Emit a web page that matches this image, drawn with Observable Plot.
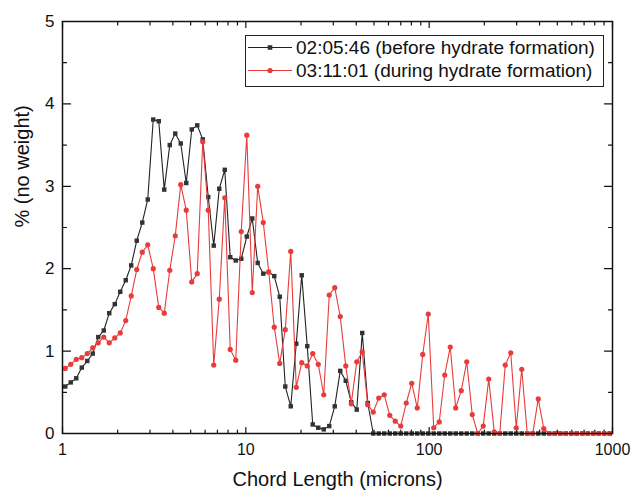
<!DOCTYPE html>
<html><head><meta charset="utf-8">
<script src="https://cdn.jsdelivr.net/npm/d3@7"></script>
<script src="https://cdn.jsdelivr.net/npm/@observablehq/plot@0.6"></script>
<style>
body{margin:0;background:#fff;}
#wrap{position:relative;width:631px;height:494px;font-family:"Liberation Sans",Arial,sans-serif;}
#legend{position:absolute;left:245px;top:35px;}
</style></head><body><div id="wrap"></div>
<script>
const chordLength = [1.035,1.109,1.189,1.274,1.365,1.462,1.567,1.679,1.799,1.928,2.065,2.213,2.371,2.541,2.723,2.917,3.126,3.350,3.589,3.846,4.121,4.416,4.732,5.070,5.433,5.821,6.237,6.683,7.161,7.674,8.222,8.810,9.441,
10.12,10.84,11.61,12.45,13.34,14.29,15.31,16.41,17.58,18.84,20.18,21.63,23.17,24.83,26.61,28.51,30.55,32.73,35.08,37.58,40.27,43.15,46.24,49.55,53.09,56.89,60.95,65.31,69.98,74.99,80.35,86.10,92.26,
98.86,105.9,113.5,121.6,130.3,139.6,149.6,160.3,171.8,184.1,197.2,211.3,226.5,242.7,260.0,278.6,298.5,319.9,342.8,367.3,393.6,421.7,451.9,484.2,518.8,555.9,595.7,638.3,683.9,732.8,785.2,841.4,901.6,966.1];
const beforeHydrate = [0.57,0.62,0.67,0.80,0.88,0.97,1.17,1.25,1.46,1.57,1.72,1.86,2.04,2.34,2.56,2.84,3.81,3.79,2.96,3.50,3.64,3.52,3.04,3.69,3.74,3.57,2.87,2.28,2.97,3.20,2.14,2.10,2.12,
2.39,2.61,2.07,1.94,1.96,1.91,1.66,0.57,0.33,1.09,1.92,1.06,0.11,0.07,0.05,0.09,0.33,0.76,0.64,0.38,0.29,1.22,0.37,0,0,0,0,0,0,0,0,0,0,
0,0,0,0,0,0,0,0,0,0,0,0,0,0,0,0,0,0,0,0,0,0,0,0,0,0,0,0,0,0,0,0,0,0];
const duringHydrate = [0.79,0.84,0.90,0.92,0.97,1.04,1.10,1.17,1.10,1.16,1.22,1.37,1.67,1.99,2.20,2.29,2.00,1.53,1.46,1.98,2.40,3.02,2.71,1.84,1.94,3.54,2.71,0.83,1.63,2.86,1.02,0.89,2.45,
3.62,1.71,3.00,2.56,1.96,1.29,0.85,1.26,2.21,0.56,0.86,0.82,0.97,0.84,0.47,1.68,1.77,1.42,0.82,0.36,0.87,0.99,0.35,0.26,0.43,0.47,0.22,0.15,0.09,0.37,0.61,0.31,0.96,
1.45,0.07,0.14,0.71,1.05,0.31,0.52,0.87,0.23,0,0.09,0.66,0.02,0,0.83,0.98,0.07,0.78,0,0,0.42,0.06,0,0,0,0,0,0,0,0,0,0,0,0];
const seriesNames = ["02:05:46 (before hydrate formation)", "03:11:01 (during hydrate formation)"];
const seriesColors = ["#222222", "#e83c3c"];
const xTicks = [1, 10, 100, 1000];
const xMinorTicks = [2,3,4,5,6,7,8,9,20,30,40,50,60,70,80,90,200,300,400,500,600,700,800,900];
const yTicks = [0, 1, 2, 3, 4, 5];
const yMinorTicks = [0.5, 1.5, 2.5, 3.5, 4.5];
const xTitle = "Chord Length (microns)";
const yTitle = "% (no weight)";

const rowsBefore = chordLength.map((x, i) => ({x, y: beforeHydrate[i]}));
const rowsDuring = chordLength.map((x, i) => ({x, y: duringHydrate[i]}));

const tickShape = {draw(ctx, l) { ctx.moveTo(0, 0); ctx.lineTo(0, -l); }};
function ticksOn(values, ch, anchor, rotate, len) {
  const o = {frameAnchor: anchor, rotate, length: len, anchor: "start", shape: tickShape, stroke: "#111", strokeWidth: 1.2};
  o[ch] = d => d;
  return Plot.vector(values, o);
}

const chart = Plot.plot({
  width: 631, height: 494,
  marginLeft: 62, marginRight: 19, marginTop: 21, marginBottom: 61,
  x: {type: "log", domain: [1, 1000], label: null},
  y: {domain: [0, 5], label: null},
  style: {fontFamily: '"Liberation Sans", Arial, sans-serif', fontSize: "16px", color: "#111", background: "#fff"},
  marks: [
    Plot.axisX(xTicks, {tickSize: 0, tickPadding: 10, tickFormat: d => String(d), fontSize: 16, label: null}),
    Plot.axisY(yTicks, {tickSize: 0, tickPadding: 8, tickFormat: d => String(d), fontSize: 17, label: null}),
    ticksOn(xTicks, "x", "bottom", 0, 6), ticksOn(xMinorTicks, "x", "bottom", 0, 3.5),
    ticksOn(xTicks, "x", "top", 180, 6), ticksOn(xMinorTicks, "x", "top", 180, 3.5),
    ticksOn(yTicks, "y", "left", 90, 8), ticksOn(yMinorTicks, "y", "left", 90, 4),
    ticksOn(yTicks, "y", "right", -90, 8), ticksOn(yMinorTicks, "y", "right", -90, 4),
    Plot.line(rowsBefore, {x: "x", y: "y", stroke: seriesColors[0], strokeWidth: 1.1}),
    Plot.dot(rowsBefore, {x: "x", y: "y", symbol: "square", r: 2.5, fill: "#333", stroke: "none"}),
    Plot.line(rowsDuring, {x: "x", y: "y", stroke: seriesColors[1], strokeWidth: 1.1}),
    Plot.dot(rowsDuring, {x: "x", y: "y", symbol: "circle", r: 2.6, fill: seriesColors[1], stroke: "none"}),
    Plot.frame({stroke: "#111", strokeWidth: 1.5}),
    Plot.text([xTitle], {text: d => d, frameAnchor: "bottom", dy: 46, fontSize: 20, lineAnchor: "middle", fill: "#111"}),
    Plot.text([yTitle], {text: d => d, frameAnchor: "left", dx: -40, rotate: -90, fontSize: 20, lineAnchor: "middle", fill: "#111"})
  ]
});
const wrap = document.getElementById("wrap");
wrap.appendChild(chart);

// legend
const lg = d3.select(wrap).append("svg").attr("id", "legend").attr("width", 360).attr("height", 53)
  .style("font-family", '"Liberation Sans", Arial, sans-serif');
lg.append("rect").attr("x", 0.5).attr("y", 0.5).attr("width", 358).attr("height", 51)
  .attr("fill", "#fff").attr("stroke", "#222").attr("stroke-width", 1);
seriesNames.forEach((name, i) => {
  const cy = 12.5 + i * 23;
  const g = lg.append("g");
  g.append("line").attr("x1", 3).attr("x2", 47).attr("y1", cy).attr("y2", cy)
    .attr("stroke", seriesColors[i]).attr("stroke-width", 1);
  if (i === 0) g.append("rect").attr("x", 22.7).attr("y", cy - 2.3).attr("width", 4.6).attr("height", 4.6).attr("fill", "#333");
  else g.append("circle").attr("cx", 25).attr("cy", cy).attr("r", 2.6).attr("fill", seriesColors[1]);
  g.append("text").attr("x", 51).attr("y", cy).attr("dy", "0.35em").attr("font-size", 19).attr("fill", "#111").text(name);
});
</script></body></html>
